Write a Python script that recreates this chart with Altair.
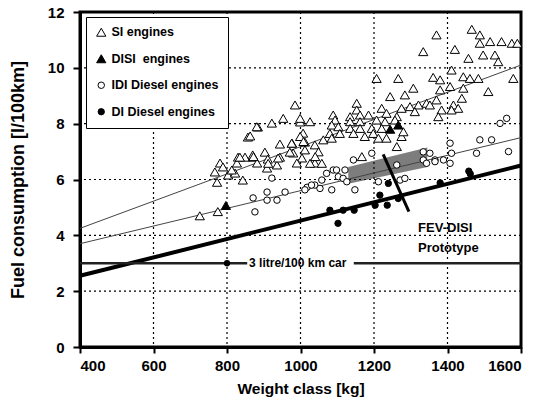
import altair as alt
import pandas as pd

# ---- data ----
si_x = [726, 775, 781, 773, 803, 822, 843, 827, 849, 871, 882, 909, 936, 944, 903, 980, 1004, 990,
        767, 789, 813, 830, 857, 863, 884, 922, 944, 870, 911, 939, 1012, 1007, 1012, 977, 971, 1039,
        999, 835,
        1466, 1488, 1516, 1547, 1575, 1590, 1488, 1370, 1334, 1420, 1457, 1497, 1529, 1538, 1411,
        1361, 1380, 1443, 1461, 1484, 1579, 1207, 1266, 1307, 1244, 1284, 1380, 1407, 1443, 1511,
        1439, 1370, 1343, 1321, 1298, 1275, 1221, 1153, 1153, 1135, 1162, 1185, 1234, 1262, 1311,
        1352, 1416, 1429, 1384, 1411, 1375, 1089, 1094, 1085, 1135, 1162, 1207, 1230, 1257, 1103,
        1135, 1162, 1194, 1221, 1080, 1107, 1144, 1175, 1198, 1212, 1234, 1275, 1280, 1262, 999,
        985, 953, 999, 1026, 881, 976, 1008, 1039, 1062, 1085, 1049, 872, 912, 1026, 1058, 1040,
        1167]
si_y = [4.70, 4.85, 6.59, 5.90, 6.16, 6.23, 5.98, 6.59, 6.80, 6.80, 6.59, 6.41, 6.52, 6.80, 6.98, 6.95, 6.77, 6.59,
        6.27, 6.45, 6.34, 6.80, 7.52, 7.56, 7.88, 8.02, 7.27, 6.88, 6.73, 6.77, 7.06, 7.66, 7.34, 7.30, 6.98, 6.59,
        8.06, 6.80,
        11.38, 11.18, 10.94, 10.94, 10.88, 10.88, 10.88, 11.18, 10.58, 10.66, 10.34, 10.46, 10.46, 10.22, 9.92,
        9.66, 9.57, 9.68, 9.62, 9.62, 9.62, 9.62, 9.62, 9.27, 8.97, 9.03, 9.21, 9.33, 9.27, 9.15,
        8.91, 8.85, 8.73, 8.67, 8.61, 8.55, 8.55, 8.73, 8.49, 8.25, 8.31, 8.31, 8.37, 8.25, 8.43,
        8.67, 8.67, 8.55, 8.49, 8.49, 8.25, 8.31, 8.13, 7.95, 8.07, 8.07, 8.13, 8.07, 8.13, 7.89,
        7.83, 7.83, 7.83, 7.83, 7.65, 7.65, 7.65, 7.54, 7.65, 7.48, 7.48, 7.54, 7.71, 7.18, 7.54,
        8.67, 8.19, 8.19, 8.07, 7.89, 7.30, 7.36, 7.24, 7.42, 7.48, 6.99, 6.82, 6.58, 6.58, 6.58, 6.82,
        6.82]

disi_x = [797, 1244, 1266]
disi_y = [5.07, 7.80, 7.95]

idi_x = [871, 876, 909, 909, 936, 958, 1018, 922, 1039, 1058, 1071, 1089, 1103, 1121, 1116, 1126,
         1085, 1148, 1144, 1194, 1212, 1271, 1284, 1334, 1343, 1366, 1262, 1407, 1488, 1520, 1479,
         1566, 1543, 1561, 1334, 1352, 1366, 1389, 1407, 1411, 1098, 1053, 1030, 1012]
idi_y = [5.34, 4.84, 5.55, 5.26, 5.26, 5.55, 5.72, 6.05, 5.80, 5.98, 6.22, 6.34, 6.10, 6.34, 6.04, 5.92,
         5.63, 5.63, 6.70, 6.94, 5.92, 5.98, 6.04, 6.70, 6.58, 6.70, 6.52, 7.30, 7.42, 7.42, 6.94,
         7.00, 8.01, 8.19, 6.99, 6.94, 6.64, 6.70, 6.58, 6.94, 6.34, 5.68, 5.80, 5.63]

di_x = [1080, 1116, 1146, 1102, 1203, 1216, 1236, 1239, 1266, 1380, 1458, 1462]
di_y = [4.90, 4.90, 4.90, 4.43, 5.08, 5.44, 5.08, 5.86, 5.32, 5.88, 6.30, 6.20]

engines = ["SI engines", "DISI\u00a0 engines", "IDI Diesel engines", "DI Diesel engines"]

# axis ticks
x_ticks = [400, 600, 800, 1000, 1200, 1400, 1600]
y_ticks = [0, 2, 4, 6, 8, 10, 12]
x_grid = [600, 800, 1000, 1200, 1400]
y_grid = [2, 4, 6, 8, 10]

# trend lines (end points)
trend_name = ["SI", "SI", "IDI", "IDI"]
trend_x = [400, 1600, 400, 1600]
trend_y = [4.25, 10.1, 3.7, 7.5]
di_trend_x = [400, 1600]
di_trend_y = [2.55, 6.5]

# 3 litre car line (two segments, gap behind the label)
car_seg = ["a", "a", "b", "b"]
car_x = [400, 855, 1145, 1600]
car_y = [3.0, 3.0, 3.0, 3.0]
car_dot_x = [800]
car_dot_y = [3.0]
car_label = ["3 litre/100 km car"]
car_label_x = [860]

# FEV-DISI prototype area and pointer
band_x = [1130, 1345]
band_lo = [5.85, 6.45]
band_hi = [6.45, 7.15]
arrow_x = [1225, 1295]
arrow_y = [6.9, 4.85]
proto_text = ["FEV-DISI", "Prototype"]
proto_x = [1320, 1320]
proto_y = [4.26, 3.55]

FONT = "Liberation Sans"

rows = []
for name, xs, ys in [(engines[0], si_x, si_y), (engines[1], disi_x, disi_y),
                     (engines[2], idi_x, idi_y), (engines[3], di_x, di_y)]:
    for a, b in zip(xs, ys):
        rows.append({"weight": a, "fuel": b, "engine": name})
pts = pd.DataFrame(rows)

xscale = alt.Scale(domain=[400, 1600], nice=False)
yscale = alt.Scale(domain=[0, 12], nice=False)
xaxis = alt.Axis(values=x_ticks, title="Weight class [kg]", format="d", grid=False,
                 titleFontSize=15.5, titlePadding=8, labelPadding=5, tickSize=6)
yaxis = alt.Axis(values=y_ticks, title="Fuel consumption [l/100km]", format="d", grid=False,
                 titleFontSize=18, titlePadding=20, labelPadding=9, tickSize=7)

band = alt.Chart(pd.DataFrame({"weight": band_x, "lo": band_lo, "hi": band_hi})).mark_area(
    color="#6f6f6f", opacity=0.9
).encode(
    x=alt.X("weight:Q", scale=xscale, axis=xaxis),
    y=alt.Y("lo:Q", scale=yscale, axis=yaxis),
    y2="hi:Q",
)

vgrid = alt.Chart(pd.DataFrame({"weight": x_grid})).mark_rule(
    color="black", strokeWidth=1.2, strokeDash=[2, 3]
).encode(x="weight:Q")
hgrid = alt.Chart(pd.DataFrame({"fuel": y_grid})).mark_rule(
    color="black", strokeWidth=1.2, strokeDash=[2, 3]
).encode(y="fuel:Q")

thin = alt.Chart(pd.DataFrame({"weight": trend_x, "fuel": trend_y, "name": trend_name})).mark_line(
    color="#444444", strokeWidth=1
).encode(x="weight:Q", y="fuel:Q", detail="name:N")

thick = alt.Chart(pd.DataFrame({"weight": di_trend_x, "fuel": di_trend_y})).mark_line(
    color="black", strokeWidth=4
).encode(x="weight:Q", y="fuel:Q")

car = alt.Chart(pd.DataFrame({"weight": car_x, "fuel": car_y, "seg": car_seg})).mark_line(
    color="#222222", strokeWidth=2.5
).encode(x="weight:Q", y="fuel:Q", detail="seg:N")

car_dot = alt.Chart(pd.DataFrame({"weight": car_dot_x, "fuel": car_dot_y})).mark_point(
    filled=True, color="black", size=40, opacity=1
).encode(x="weight:Q", y="fuel:Q")

car_txt = alt.Chart(pd.DataFrame({"weight": car_label_x, "fuel": [3.0], "t": car_label})).mark_text(
    align="left", baseline="middle", font=FONT, fontWeight="bold", fontSize=12, color="black"
).encode(x="weight:Q", y="fuel:Q", text="t:N")

leg = alt.Legend(title=None, orient="none", legendX=6, legendY=5, fillColor="white",
                 strokeColor="black", padding=9, rowPadding=13.5, labelFont=FONT,
                 labelFontSize=12.5, labelFontWeight="bold", labelColor="black",
                 symbolStrokeWidth=1, labelOffset=4)

points = alt.Chart(pts).mark_point(filled=True, strokeWidth=1, opacity=1).encode(
    x="weight:Q",
    y="fuel:Q",
    shape=alt.Shape("engine:N", scale=alt.Scale(domain=engines,
                    range=["triangle-up", "triangle-up", "circle", "circle"]), legend=leg, sort=engines),
    fill=alt.Fill("engine:N", scale=alt.Scale(domain=engines,
                  range=["white", "black", "white", "black"]), legend=leg, sort=engines),
    stroke=alt.Stroke("engine:N", scale=alt.Scale(domain=engines,
                      range=["black", "black", "black", "black"]), legend=leg, sort=engines),
    size=alt.Size("engine:N", scale=alt.Scale(type="ordinal", domain=engines, range=[85, 85, 42, 40]),
                  legend=leg, sort=engines),
)

arrow = alt.Chart(pd.DataFrame({"weight": arrow_x, "fuel": arrow_y})).mark_line(
    color="black", strokeWidth=3
).encode(x="weight:Q", y="fuel:Q")

proto = alt.Chart(pd.DataFrame({"weight": proto_x, "fuel": proto_y, "t": proto_text})).mark_text(
    align="left", baseline="middle", font=FONT, fontWeight="bold", fontSize=13, color="black"
).encode(x="weight:Q", y="fuel:Q", text="t:N")

chart = alt.layer(band, vgrid, hgrid, thin, thick, car, car_dot, car_txt, points, arrow, proto).properties(
    width=441, height=335,
    autosize=alt.AutoSizeParams(type="none"),
    padding={"left": 80, "top": 12, "right": 17, "bottom": 59},
    background="white",
).configure_view(
    stroke="black", strokeWidth=3
).configure_axis(
    domainColor="black", domainWidth=3, tickColor="black", tickWidth=2,
    labelFont=FONT, labelFontSize=15, labelFontWeight="bold", labelColor="black",
    titleFont=FONT, titleFontWeight="bold", titleColor="black",
)

chart.save("out.html", embed_options={"renderer": "svg", "actions": False})
